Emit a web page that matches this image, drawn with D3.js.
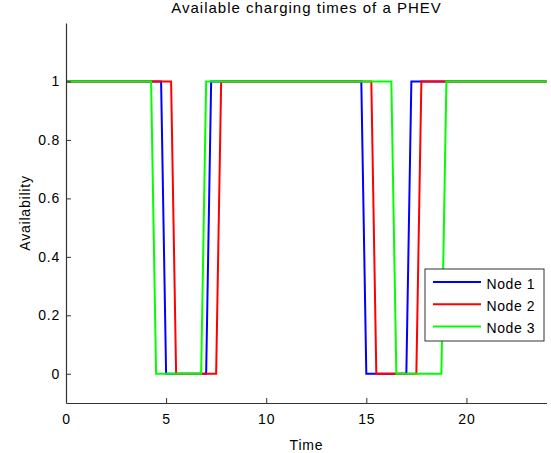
<!DOCTYPE html>
<html>
<head>
<meta charset="utf-8">
<script src="https://cdn.jsdelivr.net/npm/d3@7"></script>
<style>
  body { margin: 0; background: #fff; }
  text { font-family: "Liberation Sans", Arial, sans-serif; }
</style>
</head>
<body>
<script>
// data: time points (hours) and availability for each node
const node1Times = [0, 4.75, 5, 7, 7.25, 14.75, 15, 17, 17.25, 24];
const node1Vals  = [1, 1,    0, 0, 1,    1,     0,  0,  1,     1];
const node2Times = [0, 5.25, 5.5, 7.5, 7.75, 15.25, 15.5, 17.5, 17.75, 24];
const node2Vals  = [1, 1,    0,   0,   1,    1,     0,    0,    1,     1];
const node3Times = [0, 4.25, 4.5, 6.75, 7, 16.25, 16.5, 18.75, 19, 24];
const node3Vals  = [1, 1,    0,   0,    1, 1,     0,    0,     1,  1];

const seriesNames = ["Node 1", "Node 2", "Node 3"];
const seriesColors = ["#0000ff", "#ff0000", "#00ff00"];
const xTicks = [0, 5, 10, 15, 20];
const yTicks = [0, 0.2, 0.4, 0.6, 0.8, 1];

const series = [
  node1Times.map((t, i) => [t, node1Vals[i]]),
  node2Times.map((t, i) => [t, node2Vals[i]]),
  node3Times.map((t, i) => [t, node3Vals[i]])
];

const width = 551, height = 453;
const margin = {top: 23, right: 4, bottom: 50, left: 66};
const fontSize = 14, spacing = "0.8px";

const svg = d3.select("body").append("svg")
    .attr("width", width)
    .attr("height", height);

const xScale = d3.scaleLinear()
    .domain([0, 24])
    .range([margin.left, width - margin.right - 0.5]);

const yScale = d3.scaleLinear()
    .domain([-0.1, 1.2])
    .range([height - margin.bottom, margin.top]);

// lines
const line = d3.line()
    .x((d) => xScale(d[0]))
    .y((d) => yScale(d[1]));

svg.selectAll(".series")
    .data(series)
    .join("path")
    .attr("class", "series")
    .attr("d", line)
    .attr("fill", "none")
    .attr("stroke", (d, i) => seriesColors[i])
    .attr("stroke-width", 2);

// axes (inward ticks, like matlab)
const xAxis = d3.axisBottom(xScale)
    .tickValues(xTicks)
    .tickSizeInner(-5)
    .tickSizeOuter(0)
    .tickPadding(11);

const yAxis = d3.axisLeft(yScale)
    .tickValues(yTicks)
    .tickSizeInner(-5)
    .tickSizeOuter(0)
    .tickPadding(6)
    .tickFormat(d3.format("~g"));

const gx = svg.append("g")
    .attr("transform", `translate(0, ${height - margin.bottom})`)
    .call(xAxis);

const gy = svg.append("g")
    .attr("transform", `translate(${margin.left}, 0)`)
    .call(yAxis);

[gx, gy].forEach((g) => {
    g.select(".domain").attr("stroke", "#333").attr("stroke-width", 1.2);
    g.selectAll(".tick line").attr("stroke", "#333");
    g.selectAll(".tick text").attr("fill", "#000").attr("font-size", fontSize)
        .attr("font-family", "Liberation Sans, Arial, sans-serif")
        .attr("letter-spacing", spacing);
});

// title and labels
svg.append("text")
    .attr("x", (margin.left + width - margin.right) / 2)
    .attr("y", 13)
    .attr("text-anchor", "middle")
    .attr("font-size", 15)
    .attr("letter-spacing", "1px")
    .text("Available charging times of a PHEV");

svg.append("text")
    .attr("x", (margin.left + width - margin.right) / 2)
    .attr("y", 450)
    .attr("text-anchor", "middle")
    .attr("font-size", fontSize)
    .attr("letter-spacing", spacing)
    .text("Time");

svg.append("text")
    .attr("transform", `translate(30, ${(margin.top + height - margin.bottom) / 2}) rotate(-90)`)
    .attr("text-anchor", "middle")
    .attr("font-size", fontSize)
    .attr("letter-spacing", spacing)
    .text("Availability");

// legend
const legend = svg.append("g").attr("transform", "translate(425, 269)");
legend.append("rect")
    .attr("width", 119)
    .attr("height", 72)
    .attr("fill", "#fff")
    .attr("stroke", "#333");

const rows = legend.selectAll(".row")
    .data(seriesNames)
    .join("g")
    .attr("class", "row")
    .attr("transform", (d, i) => `translate(0, ${13 + i * 22.2})`);

rows.append("line")
    .attr("x1", 8).attr("x2", 56)
    .attr("stroke", (d, i) => seriesColors[i])
    .attr("stroke-width", 2);

rows.append("text")
    .attr("x", 61.5)
    .attr("y", 7)
    .attr("font-size", fontSize)
    .attr("letter-spacing", "0.6px")
    .text((d) => d);
</script>
</body>
</html>
